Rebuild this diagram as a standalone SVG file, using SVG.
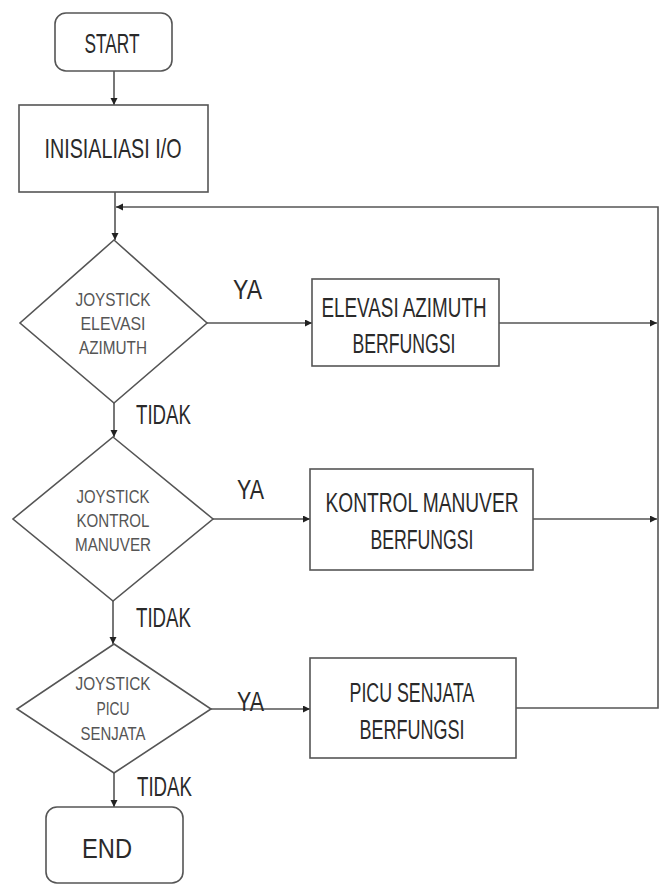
<svg xmlns="http://www.w3.org/2000/svg" width="667" height="890" viewBox="0 0 667 890">
<defs>
<marker id="arr" markerUnits="userSpaceOnUse" markerWidth="8" markerHeight="8" refX="7" refY="3.5" orient="auto">
<path d="M0,0 L7,3.5 L0,7 z" fill="#222"/>
</marker>
<style>
.shape{fill:#fff;stroke:#555;stroke-width:1.6}
.conn{fill:none;stroke:#555;stroke-width:1.6}
.t{font-family:'Liberation Sans',Arial,sans-serif;fill:#2a2a2a;text-anchor:middle}
.big{font-size:28px}
.box{font-size:27px}
.dia{font-size:18px;fill:#555}
.lbl{font-size:27px;text-anchor:start}
</style>
</defs>
<rect width="667" height="890" fill="#fff"/>
<g id="connectors">
<line class="conn" x1="114" y1="71" x2="114" y2="105" marker-end="url(#arr)"/>
<line class="conn" x1="115" y1="192" x2="115" y2="240" marker-end="url(#arr)"/>
<path class="conn" d="M516,708 H658 V207 H116" marker-end="url(#arr)"/>
<line class="conn" x1="499" y1="323" x2="657" y2="323" marker-end="url(#arr)"/>
<line class="conn" x1="533" y1="519" x2="657" y2="519" marker-end="url(#arr)"/>
<line class="conn" x1="207" y1="323" x2="312" y2="323" marker-end="url(#arr)"/>
<line class="conn" x1="114" y1="403" x2="114" y2="437" marker-end="url(#arr)"/>
<line class="conn" x1="213" y1="519" x2="310" y2="519" marker-end="url(#arr)"/>
<line class="conn" x1="113" y1="601" x2="113" y2="644" marker-end="url(#arr)"/>
<line class="conn" x1="211" y1="709" x2="310" y2="709" marker-end="url(#arr)"/>
<line class="conn" x1="114" y1="773" x2="114" y2="807" marker-end="url(#arr)"/>
<text class="t lbl" x="233" y="299" textLength="29" lengthAdjust="spacingAndGlyphs">YA</text>
<text class="t lbl" x="136" y="424" textLength="55" lengthAdjust="spacingAndGlyphs">TIDAK</text>
<text class="t lbl" x="237" y="499" textLength="27" lengthAdjust="spacingAndGlyphs">YA</text>
<text class="t lbl" x="136" y="627" textLength="55" lengthAdjust="spacingAndGlyphs">TIDAK</text>
<text class="t lbl" x="237" y="711" textLength="27" lengthAdjust="spacingAndGlyphs">YA</text>
<text class="t lbl" x="137" y="796" textLength="55" lengthAdjust="spacingAndGlyphs">TIDAK</text>
</g>
<g id="start">
<rect class="shape" x="55" y="13" width="117" height="58" rx="11"/>
<text class="t big" x="112" y="53" textLength="55" lengthAdjust="spacingAndGlyphs">START</text>
</g>
<g id="init">
<rect class="shape" x="19" y="105" width="189" height="87"/>
<text class="t big" x="113" y="158" textLength="137" lengthAdjust="spacingAndGlyphs">INISIALIASI I/O</text>
</g>
<g id="dec1">
<polygon class="shape" points="114,240 207,323 114,403 20,323"/>
<text class="t dia" x="113" y="306" textLength="75" lengthAdjust="spacingAndGlyphs">JOYSTICK</text>
<text class="t dia" x="113" y="330" textLength="65" lengthAdjust="spacingAndGlyphs">ELEVASI</text>
<text class="t dia" x="113" y="354" textLength="68" lengthAdjust="spacingAndGlyphs">AZIMUTH</text>
</g>
<g id="box1">
<rect class="shape" x="312" y="279" width="187" height="87"/>
<text class="t box" x="404" y="317" textLength="165" lengthAdjust="spacingAndGlyphs">ELEVASI AZIMUTH</text>
<text class="t box" x="404" y="353" textLength="103" lengthAdjust="spacingAndGlyphs">BERFUNGSI</text>
</g>
<g id="dec2">
<polygon class="shape" points="113,437 213,519 113,601 13,519"/>
<text class="t dia" x="113" y="503" textLength="73" lengthAdjust="spacingAndGlyphs">JOYSTICK</text>
<text class="t dia" x="113" y="527" textLength="73" lengthAdjust="spacingAndGlyphs">KONTROL</text>
<text class="t dia" x="113" y="551" textLength="76" lengthAdjust="spacingAndGlyphs">MANUVER</text>
</g>
<g id="box2">
<rect class="shape" x="310" y="469" width="223" height="101"/>
<text class="t box" x="422" y="512" textLength="193" lengthAdjust="spacingAndGlyphs">KONTROL MANUVER</text>
<text class="t box" x="422" y="549" textLength="103" lengthAdjust="spacingAndGlyphs">BERFUNGSI</text>
</g>
<g id="dec3">
<polygon class="shape" points="114,644 211,709 114,773 17,709"/>
<text class="t dia" x="113" y="690" textLength="75" lengthAdjust="spacingAndGlyphs">JOYSTICK</text>
<text class="t dia" x="113" y="715" textLength="33" lengthAdjust="spacingAndGlyphs">PICU</text>
<text class="t dia" x="113" y="740" textLength="65" lengthAdjust="spacingAndGlyphs">SENJATA</text>
</g>
<g id="box3">
<rect class="shape" x="310" y="658" width="206" height="100"/>
<text class="t box" x="412" y="702" textLength="125" lengthAdjust="spacingAndGlyphs">PICU SENJATA</text>
<text class="t box" x="412" y="739" textLength="105" lengthAdjust="spacingAndGlyphs">BERFUNGSI</text>
</g>
<g id="end">
<rect class="shape" x="46" y="807" width="137" height="76" rx="11"/>
<text class="t big" x="107" y="858" textLength="50" lengthAdjust="spacingAndGlyphs">END</text>
</g>
</svg>
